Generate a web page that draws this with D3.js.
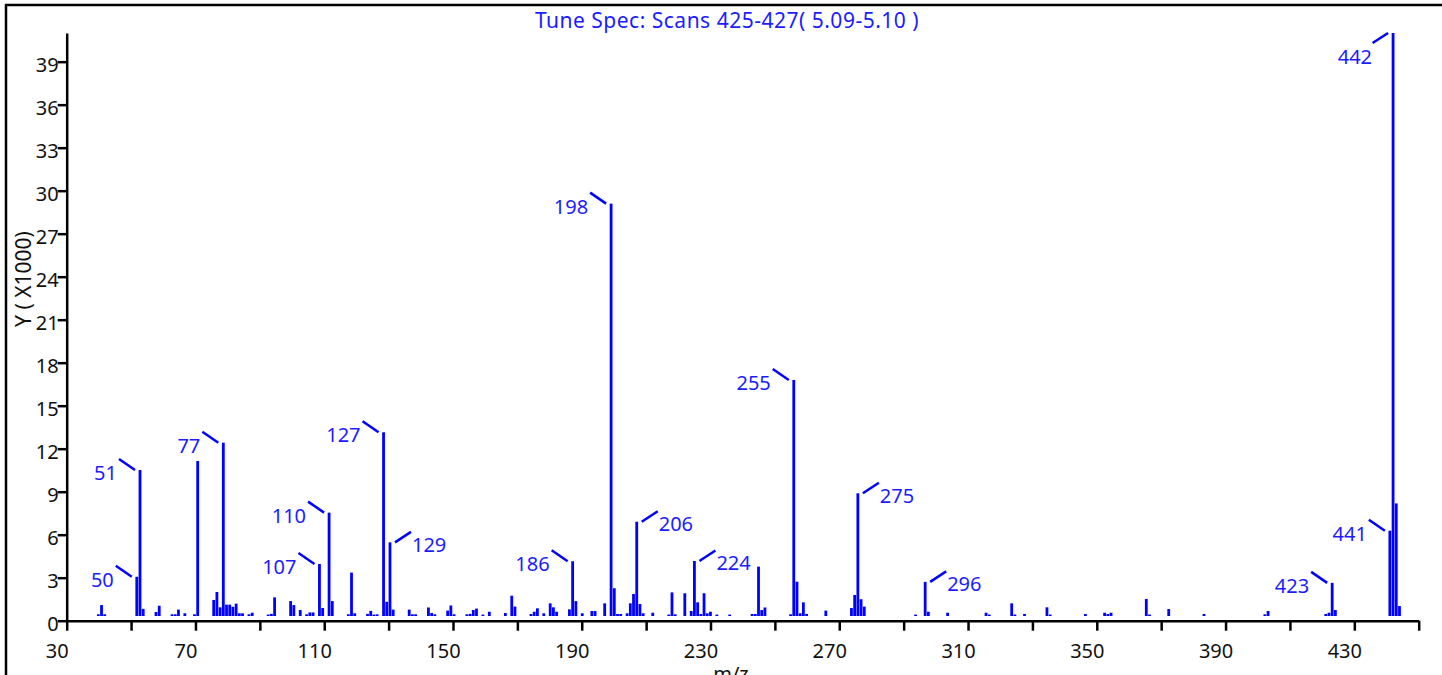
<!DOCTYPE html>
<html><head><meta charset="utf-8">
<script src="https://cdn.jsdelivr.net/npm/d3@7"></script>
<style>html,body{margin:0;padding:0;background:#fff;overflow:hidden}</style>
</head><body>
<script>
// ---- data (m/z and intensity in thousands) ----
const mzValues = [38,39,40,50,51,52,56,57,61,62,63,65,68,69,74,75,76,77,78,79,80,81,82,83,85,86,
  91,92,93,98,99,101,103,104,105,107,108,110,111,116,117,118,122,123,124,125,127,128,129,130,
  135,136,137,141,142,143,147,148,149,153,154,155,156,158,160,165,167,168,173,174,175,177,179,180,181,
  185,186,187,189,192,193,196,198,199,200,201,203,204,205,206,207,208,211,216,217,218,221,223,224,225,
  226,227,228,229,231,235,242,243,244,245,246,254,255,256,257,258,259,265,273,274,275,276,277,293,296,297,
  303,315,316,323,324,327,334,335,346,352,353,354,365,366,372,383,402,403,421,422,423,424,441,442,443,444];
const intensities = [0.12,0.77,0.12,2.76,10.27,0.5,0.28,0.72,0.12,0.12,0.45,0.19,0.12,10.9,1.13,1.69,0.61,12.19,0.8,0.8,0.65,0.87,0.19,0.19,0.12,0.23,
  0.1,0.15,1.31,1.05,0.77,0.42,0.12,0.25,0.25,3.66,0.56,7.27,1.05,0.12,3.05,0.19,0.15,0.36,0.1,0.12,12.92,1.0,5.18,0.45,
  0.45,0.12,0.12,0.6,0.21,0.12,0.38,0.74,0.12,0.12,0.15,0.42,0.52,0.1,0.3,0.21,1.43,0.66,0.14,0.3,0.54,0.19,0.89,0.61,0.3,
  0.47,3.85,1.05,0.19,0.35,0.35,0.89,29.0,1.95,0.14,0.14,0.19,0.89,1.55,6.63,0.84,0.19,0.23,0.1,1.66,0.12,1.6,0.35,3.87,0.96,
  0.14,1.6,0.19,0.3,0.1,0.1,0.14,0.14,3.47,0.42,0.6,0.12,16.6,2.41,0.19,0.96,0.14,0.38,0.56,1.48,8.63,1.18,0.66,0.1,2.4,0.3,
  0.23,0.23,0.1,0.89,0.1,0.14,0.61,0.1,0.14,0.23,0.14,0.23,1.2,0.1,0.49,0.14,0.12,0.35,0.14,0.23,2.33,0.42,6.0,41.0,7.92,0.7];
const labeledPeaks = [50,51,77,107,110,127,129,186,198,206,224,255,275,296,423,441,442];
const rightLabels = [129,206,224,275,296];
const topLabels = [442];
const xTickValues = d3.range(30, 451, 20);
const xTickLabels = [30,70,110,150,190,230,270,310,350,390,430];
const yTickValues = d3.range(0, 40, 3);
const titleText = "Tune Spec: Scans 425-427( 5.09-5.10 )";
const xTitle = "m/z";
const yTitle = "Y ( X1000)";

// ---- drawing ----
const W = 1442, H = 675;
const BLUE = "#0000ff", TBLUE = "#1c1cff";
const FONT = "'Noto Sans', 'DejaVu Sans', sans-serif";
const svg = d3.select("body").append("svg").attr("width", W).attr("height", H)
  .style("font-family", FONT);

svg.append("rect").attr("x", 6).attr("y", 5).attr("width", 1450).attr("height", 700)
  .attr("fill", "none").attr("stroke", "#000").attr("stroke-width", 2.5);

const xAxisScale = d3.scaleLinear().domain([30, 450]).range([66.7, 1418.7]);
const xBarScale = d3.scaleLinear().domain([28.13, 450]).range([66.7, 1418.7]);
const yAxisScale = d3.scaleLinear().domain([0, 41]).range([620.7, 33]);
const yBarScale = d3.scaleLinear().domain([0, 41]).range([616, 33]);

const peaks = mzValues.map((m, i) => ({mz: m, v: intensities[i]}));

// bars
svg.append("g").selectAll("rect").data(peaks).join("rect")
  .attr("x", d => xBarScale(d.mz) - 1.4)
  .attr("width", 2.8)
  .attr("y", d => yBarScale(d.v))
  .attr("height", d => yBarScale(0) - yBarScale(d.v))
  .attr("fill", BLUE);

// x axis
const gx = svg.append("g").attr("transform", `translate(0,${yAxisScale(0)})`)
  .call(d3.axisBottom(xAxisScale).tickValues(xTickValues).tickSize(10).tickSizeOuter(0)
    .tickFormat(d => xTickLabels.includes(d) ? d : ""));
gx.select(".domain").attr("stroke-width", 2.5);
gx.selectAll(".tick line").attr("stroke-width", 2.5);
gx.selectAll(".tick text").attr("font-size", 20).attr("font-family", FONT).attr("fill", "#111")
  .attr("y", 37).attr("dy", 0).attr("x", -10);

// y axis
const gy = svg.append("g").attr("transform", `translate(${xAxisScale(30)},0)`)
  .call(d3.axisLeft(yAxisScale).tickValues(yTickValues).tickSize(9).tickSizeOuter(0));
gy.select(".domain").attr("stroke-width", 2.5);
gy.selectAll(".tick line").attr("stroke-width", 2.5);
gy.selectAll(".tick text").attr("font-size", 20).attr("font-family", FONT).attr("fill", "#111")
  .attr("x", -8).attr("dy", "0.5em");

// peak labels
const lab = svg.append("g");
peaks.filter(d => labeledPeaks.includes(d.mz)).forEach(d => {
  const x = xBarScale(d.mz), t = yBarScale(d.v);
  let x1, y1, x2, y2, tx, ty, anchor;
  if (topLabels.includes(d.mz)) {
    x1 = x - 5; y1 = t; x2 = x - 20.5; y2 = t + 10; tx = x - 21; ty = t + 31; anchor = "end";
  } else if (rightLabels.includes(d.mz)) {
    x1 = x + 5; y1 = t; x2 = x + 21; y2 = t - 10.5; tx = x + 22; ty = t + 9.5; anchor = "start";
  } else {
    x1 = x - 5; y1 = t; x2 = x - 21; y2 = t - 11; tx = x - 23; ty = t + 10; anchor = "end";
  }
  lab.append("line").attr("x1", x1).attr("y1", y1).attr("x2", x2).attr("y2", y2)
    .attr("stroke", BLUE).attr("stroke-width", 2.5);
  lab.append("text").attr("x", tx).attr("y", ty).attr("text-anchor", anchor)
    .attr("font-size", 20).attr("fill", TBLUE).text(d.mz);
});

// titles
svg.append("text").attr("x", 727).attr("y", 28).attr("text-anchor", "middle")
  .attr("font-size", 21).attr("letter-spacing", 0.5).attr("fill", TBLUE).text(titleText);
svg.append("text").attr("x", 731).attr("y", 681).attr("text-anchor", "middle")
  .attr("font-size", 20).attr("fill", "#111").text(xTitle);
svg.append("text").attr("transform", "translate(31,279) rotate(-90)").attr("text-anchor", "middle")
  .attr("font-size", 21).attr("fill", "#111").text(yTitle);
</script>
</body></html>
